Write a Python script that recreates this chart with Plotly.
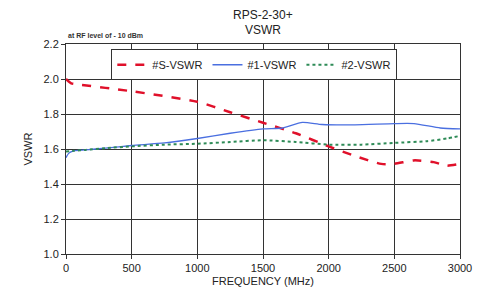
import plotly.graph_objects as go

freq_s = [0, 40, 80, 500, 1000, 1250, 1500, 1750, 2000, 2200, 2400, 2500, 2650, 2800, 2900, 3000]
vswr_s = [2.0, 1.975, 1.97, 1.93, 1.87, 1.81, 1.75, 1.69, 1.615, 1.56, 1.515, 1.515, 1.535, 1.525, 1.505, 1.515]

freq_1 = [0, 20, 60, 150, 300, 500, 750, 1000, 1250, 1500, 1650, 1800, 1950, 2200, 2500, 2650, 2850, 3000]
vswr_1 = [1.55, 1.575, 1.59, 1.595, 1.605, 1.62, 1.635, 1.66, 1.69, 1.715, 1.72, 1.752, 1.74, 1.738, 1.745, 1.745, 1.72, 1.715]

freq_2 = [0, 60, 150, 300, 500, 750, 1000, 1250, 1500, 1750, 2000, 2250, 2500, 2750, 2900, 3000]
vswr_2 = [1.585, 1.59, 1.595, 1.605, 1.615, 1.625, 1.63, 1.64, 1.65, 1.64, 1.625, 1.625, 1.635, 1.645, 1.66, 1.675]

x_ticks = [0, 500, 1000, 1500, 2000, 2500, 3000]
y_ticks = [1.0, 1.2, 1.4, 1.6, 1.8, 2.0, 2.2]

FONT = "Liberation Sans, Arial, sans-serif"
PLOT_H = 283 - 36 - 37

fig = go.Figure()
fig.add_trace(go.Scatter(x=freq_s, y=vswr_s, mode="lines", name="#S-VSWR",
                         line=dict(color="#e0102a", width=2.5, dash="dash", shape="spline", smoothing=0.6)))
fig.add_trace(go.Scatter(x=freq_1, y=vswr_1, mode="lines", name="#1-VSWR",
                         line=dict(color="#4a6fe0", width=1.3, shape="spline", smoothing=0.6)))
fig.add_trace(go.Scatter(x=freq_2, y=vswr_2, mode="lines", name="#2-VSWR",
                         line=dict(color="#2e8b57", width=2, dash="dot", shape="spline", smoothing=0.6)))

# page body has an 8px default margin; size the figure to fit the 482x291 window
fig.update_layout(
    width=474, height=283,
    margin=dict(l=58, r=22, t=36, b=37, autoexpand=False),
    paper_bgcolor="white", plot_bgcolor="white",
    font=dict(family=FONT, color="#222", size=11),
    showlegend=True,
    legend=dict(orientation="h", x=0.115, y=0.975, xanchor="left", yanchor="top",
                bgcolor="white", bordercolor="#333", borderwidth=1,
                font=dict(family=FONT, size=11, color="#222"),
                tracegroupgap=0),
)
fig.add_annotation(text="RPS-2-30+", xref="paper", yref="paper", x=0.5, y=1 + 29 / PLOT_H,
                   xanchor="center", yanchor="middle", showarrow=False,
                   font=dict(family=FONT, size=12, color="#222"))
fig.add_annotation(text="VSWR", xref="paper", yref="paper", x=0.5, y=1 + 14 / PLOT_H,
                   xanchor="center", yanchor="middle", showarrow=False,
                   font=dict(family=FONT, size=12, color="#222"))
fig.update_xaxes(range=[0, 3000], tickvals=x_ticks, ticktext=[str(v) for v in x_ticks],
                 showgrid=True, gridcolor="#333", gridwidth=1,
                 showline=True, linecolor="#333", linewidth=1, mirror=True,
                 zeroline=False, ticks="outside", ticklen=4, tickcolor="#333", tickfont=dict(size=11),
                 title=dict(text="FREQUENCY (MHz)", font=dict(size=11), standoff=4))
fig.update_yaxes(range=[1.0, 2.2], tickvals=y_ticks, ticktext=[f"{v:.1f}" for v in y_ticks],
                 showgrid=True, gridcolor="#333", gridwidth=1,
                 showline=True, linecolor="#333", linewidth=1, mirror=True,
                 zeroline=False, ticks="outside", ticklen=4, tickcolor="#333", tickfont=dict(size=11),
                 title=dict(text="VSWR", font=dict(size=11), standoff=8))
fig.add_annotation(text="<b>at RF level of - 10 dBm</b>", xref="paper", yref="paper",
                   x=0.0, y=1.015, xanchor="left", yanchor="bottom", showarrow=False,
                   font=dict(family=FONT, size=7, color="#333"))

fig.write_html("out.html")
